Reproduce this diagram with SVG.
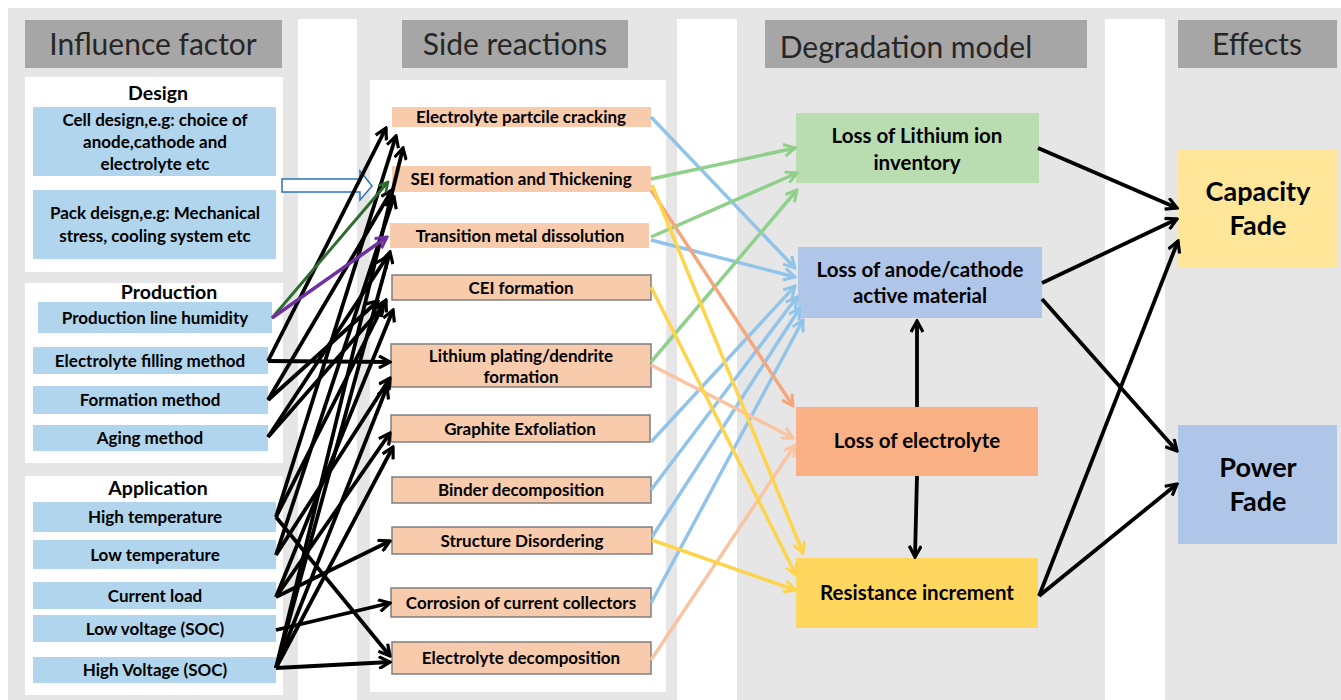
<svg xmlns="http://www.w3.org/2000/svg" width="1341" height="700" viewBox="0 0 1341 700">
<defs>
<style>
.hdr{fill:#a6a6a6}
.hdrt{font-family:Lato,"Liberation Sans",sans-serif;font-size:30px;fill:#262626;text-anchor:middle}
.wbox{fill:#ffffff}
.grp{font-family:Lato,"Liberation Sans",sans-serif;font-weight:bold;font-size:19.5px;fill:#000;text-anchor:middle}
.lb{fill:#b0d5ec}
.lt{font-family:Lato,"Liberation Sans",sans-serif;font-weight:bold;font-size:17px;fill:#000;text-anchor:middle}
.sr{fill:#f8cbad}
.srb{fill:#f8cbad;stroke:#7f7f7f;stroke-width:1.5}
.st{font-family:Lato,"Liberation Sans",sans-serif;font-weight:bold;font-size:17px;fill:#000;text-anchor:middle}
.dt{font-family:Lato,"Liberation Sans",sans-serif;font-weight:bold;font-size:20.5px;fill:#000;text-anchor:middle}
.et{font-family:Lato,"Liberation Sans",sans-serif;font-weight:bold;font-size:27px;fill:#000;text-anchor:middle}
.k{stroke:#000;stroke-width:3.8;fill:none;marker-end:url(#mk)}
.b{stroke:#92c4ea;stroke-width:3.5;fill:none;marker-end:url(#mb)}
.g{stroke:#8fd08a;stroke-width:3.5;fill:none;marker-end:url(#mg)}
.y{stroke:#ffd44d;stroke-width:3.5;fill:none;marker-end:url(#my)}
.o{stroke:#f4a77d;stroke-width:3.5;fill:none;marker-end:url(#mo)}
.p{stroke:#f9c4a2;stroke-width:3.5;fill:none;marker-end:url(#mp)}
</style>
<marker id="mk" viewBox="0 0 14 14" refX="12" refY="7" markerWidth="14" markerHeight="14" markerUnits="userSpaceOnUse" orient="auto"><path d="M1,1 L12,7 L1,13" fill="none" stroke="#000" stroke-width="3.2"/></marker>
<marker id="mb" viewBox="0 0 14 14" refX="12" refY="7" markerWidth="14" markerHeight="14" markerUnits="userSpaceOnUse" orient="auto"><path d="M1,1 L12,7 L1,13" fill="none" stroke="#92c4ea" stroke-width="3"/></marker>
<marker id="mg" viewBox="0 0 14 14" refX="12" refY="7" markerWidth="14" markerHeight="14" markerUnits="userSpaceOnUse" orient="auto"><path d="M1,1 L12,7 L1,13" fill="none" stroke="#8fd08a" stroke-width="3"/></marker>
<marker id="my" viewBox="0 0 14 14" refX="12" refY="7" markerWidth="14" markerHeight="14" markerUnits="userSpaceOnUse" orient="auto"><path d="M1,1 L12,7 L1,13" fill="none" stroke="#ffd44d" stroke-width="3"/></marker>
<marker id="mo" viewBox="0 0 14 14" refX="12" refY="7" markerWidth="14" markerHeight="14" markerUnits="userSpaceOnUse" orient="auto"><path d="M1,1 L12,7 L1,13" fill="none" stroke="#f4a77d" stroke-width="3"/></marker>
<marker id="mp" viewBox="0 0 14 14" refX="12" refY="7" markerWidth="14" markerHeight="14" markerUnits="userSpaceOnUse" orient="auto"><path d="M1,1 L12,7 L1,13" fill="none" stroke="#f9c4a2" stroke-width="3"/></marker>
<marker id="mdg" viewBox="0 0 14 14" refX="12" refY="7" markerWidth="12" markerHeight="12" markerUnits="userSpaceOnUse" orient="auto"><path d="M1,1 L12,7 L1,13" fill="none" stroke="#2e6b2e" stroke-width="3"/></marker>
<marker id="mpu" viewBox="0 0 14 14" refX="12" refY="7" markerWidth="14" markerHeight="14" markerUnits="userSpaceOnUse" orient="auto"><path d="M1,1 L12,7 L1,13" fill="none" stroke="#7030a0" stroke-width="3"/></marker>
</defs>

<g id="background">
<rect x="0" y="0" width="1341" height="700" fill="#ffffff"/>
<rect x="8" y="8" width="1333" height="692" fill="#e7e6e6"/>
<rect x="298" y="19" width="59" height="681" fill="#ffffff"/>
<rect x="677" y="19" width="60" height="681" fill="#ffffff"/>
<rect x="1105" y="19" width="60" height="681" fill="#ffffff"/>
<rect x="370" y="80" width="296" height="612" fill="#ffffff"/>
</g>

<g id="headers">
<rect class="hdr" x="25" y="20" width="257" height="48"/>
<text class="hdrt" x="153" y="55">Influence factor</text>
<rect class="hdr" x="402" y="20" width="226" height="48"/>
<text class="hdrt" x="515" y="55">Side reactions</text>
<rect class="hdr" x="765" y="20" width="322" height="48"/>
<text class="hdrt" x="906" y="58">Degradation model</text>
<rect class="hdr" x="1178" y="20" width="159" height="48"/>
<text class="hdrt" x="1257" y="55">Effects</text>
</g>

<g id="design">
<rect class="wbox" x="25" y="77" width="258" height="195"/>
<text class="grp" x="158" y="100">Design</text>
<g id="cell-design"><rect class="lb" x="33" y="107" width="243" height="69"/>
<text class="lt" x="155" y="126">Cell design,e.g: choice of</text>
<text class="lt" x="155" y="148">anode,cathode and</text>
<text class="lt" x="155" y="170">electrolyte etc</text></g>
<g id="pack-design"><rect class="lb" x="33" y="190" width="243" height="69"/>
<text class="lt" x="155" y="219">Pack deisgn,e.g: Mechanical</text>
<text class="lt" x="155" y="242">stress, cooling system etc</text></g>
</g>

<g id="production">
<rect class="wbox" x="25" y="283" width="258" height="180"/>
<text class="grp" x="169" y="299">Production</text>
<g id="humidity"><rect class="lb" x="38" y="302" width="234" height="31"/><text class="lt" x="155" y="324">Production line humidity</text></g>
<g id="filling"><rect class="lb" x="33" y="347" width="235" height="27"/><text class="lt" x="150" y="367">Electrolyte filling method</text></g>
<g id="formation"><rect class="lb" x="33" y="386" width="235" height="28"/><text class="lt" x="150" y="406">Formation method</text></g>
<g id="aging"><rect class="lb" x="33" y="425" width="235" height="26"/><text class="lt" x="150" y="444">Aging method</text></g>
</g>

<g id="application">
<rect class="wbox" x="25" y="476" width="258" height="219"/>
<text class="grp" x="158" y="495">Application</text>
<g id="high-temp"><rect class="lb" x="33" y="502" width="243" height="30"/><text class="lt" x="155" y="523">High temperature</text></g>
<g id="low-temp"><rect class="lb" x="33" y="540" width="243" height="29"/><text class="lt" x="155" y="561">Low temperature</text></g>
<g id="current-load"><rect class="lb" x="33" y="582" width="243" height="27"/><text class="lt" x="155" y="602">Current load</text></g>
<g id="low-voltage"><rect class="lb" x="33" y="615" width="243" height="27"/><text class="lt" x="155" y="635">Low voltage (SOC)</text></g>
<g id="high-voltage"><rect class="lb" x="33" y="657" width="243" height="26"/><text class="lt" x="155" y="676">High Voltage (SOC)</text></g>
</g>

<g id="side-reactions">
<g id="sr1"><rect class="sr" x="392" y="107" width="259" height="20"/><text class="st" x="521" y="123">Electrolyte partcile cracking</text></g>
<g id="sr2"><rect class="sr" x="392" y="166" width="259" height="26"/><text class="st" x="521" y="185">SEI formation and Thickening</text></g>
<g id="sr3"><rect class="sr" x="390" y="223" width="259" height="25"/><text class="st" x="520" y="242">Transition metal dissolution</text></g>
<g id="sr4"><rect class="srb" x="392" y="275" width="259" height="25"/><text class="st" x="521" y="294">CEI formation</text></g>
<g id="sr5"><rect class="srb" x="391" y="344" width="260" height="43"/><text class="st" x="521" y="362">Lithium plating/dendrite</text><text class="st" x="521" y="383">formation</text></g>
<g id="sr6"><rect class="srb" x="391" y="415" width="259" height="27"/><text class="st" x="520" y="435">Graphite Exfoliation</text></g>
<g id="sr7"><rect class="srb" x="392" y="477" width="259" height="26"/><text class="st" x="521" y="496">Binder decomposition</text></g>
<g id="sr8"><rect class="srb" x="392" y="527" width="260" height="27"/><text class="st" x="522" y="547">Structure Disordering</text></g>
<g id="sr9"><rect class="srb" x="391" y="588" width="260" height="29"/><text class="st" x="521" y="609">Corrosion of current collectors</text></g>
<g id="sr10"><rect class="srb" x="392" y="642" width="259" height="32"/><text class="st" x="521" y="664">Electrolyte decomposition</text></g>
</g>

<g id="degradation">
<g id="lli"><rect x="796" y="113" width="243" height="70" fill="#b9ddb1"/><text class="dt" x="917" y="143">Loss of Lithium ion</text><text class="dt" x="917" y="170">inventory</text></g>
<g id="lam"><rect x="798" y="247" width="244" height="71" fill="#b0c6e8"/><text class="dt" x="920" y="277">Loss of anode/cathode</text><text class="dt" x="920" y="303">active material</text></g>
<g id="le"><rect x="796" y="407" width="242" height="69" fill="#f9b084"/><text class="dt" x="917" y="448">Loss of electrolyte</text></g>
<g id="ri"><rect x="796" y="558" width="242" height="70" fill="#ffd75e"/><text class="dt" x="917" y="600">Resistance increment</text></g>
</g>

<g id="effects">
<g id="capacity"><rect x="1178" y="150" width="159" height="118" fill="#ffe699"/><text class="et" x="1258" y="201">Capacity</text><text class="et" x="1258" y="235">Fade</text></g>
<g id="power"><rect x="1178" y="425" width="159" height="119" fill="#b0c6e8"/><text class="et" x="1258" y="477">Power</text><text class="et" x="1258" y="511">Fade</text></g>
</g>

<g id="connectors">
<polygon points="282,179 360,179 360,171 372,186 360,200 360,192 282,192" fill="#ffffff" stroke="#2e75b6" stroke-width="1.5"/>
<line class="k" x1="268" y1="361" x2="386" y2="128"/>
<line class="k" x1="276" y1="517" x2="396" y2="136"/>
<line class="k" x1="276" y1="668" x2="403" y2="148"/>
<line class="k" x1="268" y1="400" x2="392" y2="190"/>
<line class="k" x1="276" y1="555" x2="394" y2="197"/>
<line class="k" x1="268" y1="437" x2="387" y2="257"/>
<line class="k" x1="276" y1="668" x2="390" y2="252"/>
<line class="k" x1="268" y1="400" x2="378" y2="301"/>
<line class="k" x1="276" y1="597" x2="393" y2="310"/>
<line class="k" x1="276" y1="517" x2="386" y2="300"/>
<line class="k" x1="268" y1="437" x2="384" y2="305"/>
<line class="k" x1="268" y1="361" x2="390" y2="362"/>
<line class="k" x1="276" y1="668" x2="387" y2="387"/>
<line class="k" x1="276" y1="555" x2="390" y2="378"/>
<line class="k" x1="276" y1="597" x2="390" y2="433"/>
<line class="k" x1="276" y1="668" x2="393" y2="447"/>
<line class="k" x1="276" y1="597" x2="390" y2="541"/>
<line class="k" x1="276" y1="630" x2="390" y2="603"/>
<line class="k" x1="276" y1="517" x2="390" y2="656"/>
<line class="k" x1="276" y1="668" x2="390" y2="662"/>
<line x1="272" y1="318" x2="388" y2="182" stroke="#2e6b2e" stroke-width="3" marker-end="url(#mdg)"/>
<line x1="272" y1="318" x2="387" y2="237" stroke="#7030a0" stroke-width="3.5" marker-end="url(#mpu)"/>

<line class="b" x1="651" y1="117" x2="795" y2="268"/>
<line class="b" x1="651" y1="240" x2="795" y2="277"/>
<line class="b" x1="651" y1="442" x2="795" y2="286"/>
<line class="b" x1="651" y1="490" x2="797" y2="297"/>
<line class="b" x1="652" y1="537" x2="800" y2="308"/>
<line class="b" x1="651" y1="603" x2="803" y2="320"/>
<line class="g" x1="651" y1="179" x2="795" y2="148"/>
<line class="g" x1="651" y1="237" x2="797" y2="173"/>
<line class="g" x1="651" y1="362" x2="797" y2="190"/>
<line class="o" x1="651" y1="190" x2="793" y2="406"/>
<line class="p" x1="651" y1="365" x2="793" y2="438"/>
<line class="p" x1="651" y1="660" x2="795" y2="445"/>
<line class="y" x1="652" y1="185" x2="803" y2="553"/>
<line class="y" x1="651" y1="287" x2="796" y2="575"/>
<line class="y" x1="652" y1="540" x2="795" y2="590"/>

<line class="k" x1="917" y1="407" x2="917" y2="321"/>
<line class="k" x1="917" y1="476" x2="915" y2="557"/>
<line class="k" x1="1038" y1="148" x2="1177" y2="208"/>
<line class="k" x1="1042" y1="283" x2="1177" y2="219"/>
<line class="k" x1="1042" y1="299" x2="1177" y2="451"/>
<line class="k" x1="1039" y1="596" x2="1178" y2="241"/>
<line class="k" x1="1039" y1="596" x2="1177" y2="484"/>
</g>
</svg>
